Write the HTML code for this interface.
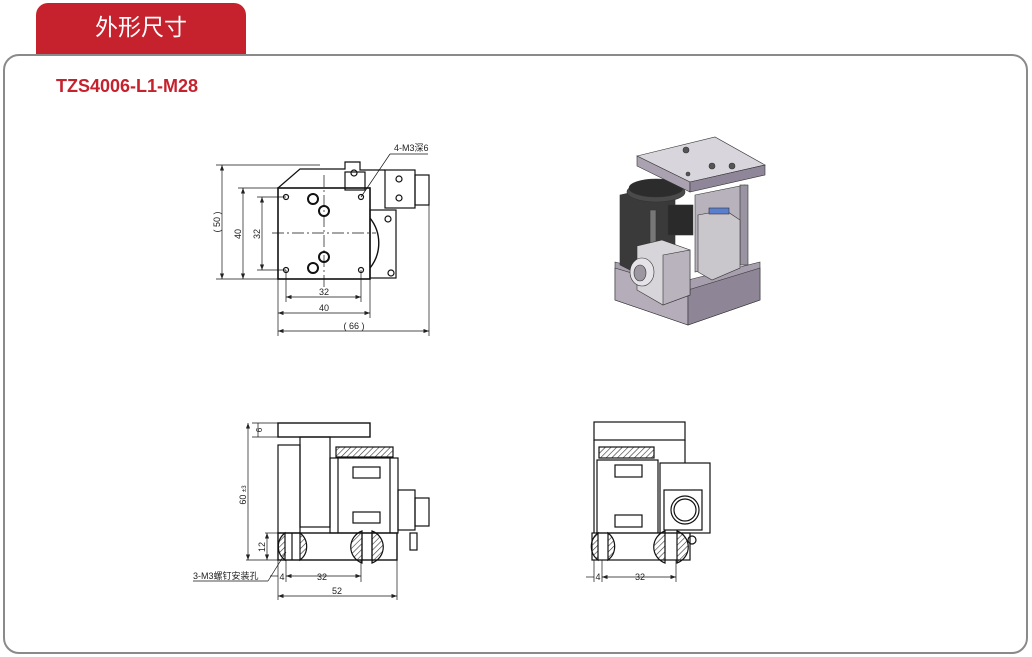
<!DOCTYPE html>
<html><head><meta charset="utf-8"><style>
html,body{margin:0;padding:0;background:#fff;}
body{width:1032px;height:657px;position:relative;overflow:hidden;font-family:"Liberation Sans","Noto Sans CJK SC",sans-serif;}
.tab{position:absolute;left:36px;top:3px;width:210px;height:52px;background:#c5222e;border-radius:12px 12px 0 0;color:#fff;font-size:23px;text-align:center;line-height:48px;font-family:"Liberation Sans","Noto Sans CJK SC",sans-serif;}
.box{position:absolute;left:3px;top:54px;width:1021px;height:596px;border:2px solid #8a8a8a;border-radius:16px;}
.title{position:absolute;left:56px;top:76px;color:#c5222e;font-weight:bold;font-size:18px;}
svg{position:absolute;left:0;top:0;}
</style></head><body>
<div class="tab">外形尺寸</div>
<div class="box"></div>
<div class="title">TZS4006-L1-M28</div>
<svg width="1032" height="657" viewBox="0 0 1032 657">
<defs>
<pattern id="h" width="4" height="4" patternUnits="userSpaceOnUse" patternTransform="rotate(45)"><line x1="0" y1="0" x2="0" y2="4" stroke="#333" stroke-width="1.2"/></pattern>
<marker id="a" markerWidth="8" markerHeight="6" refX="8" refY="3" orient="auto-start-reverse"><path d="M0,0 L8,3 L0,6Z" fill="#222"/></marker>
</defs>
<g fill="none" stroke="#111" stroke-width="1.2">
<!-- TOP VIEW -->
<path d="M278,188 L300,169 L345,169 L345,162 L360,162 L360,170 L385,170"/>
<rect x="278" y="188" width="92" height="91" stroke-width="1.6"/>
<rect x="370" y="210" width="26" height="68"/>
<path d="M370,218 A40,40 0 0 1 370,268" stroke-width="1.4"/>
<rect x="385" y="170" width="30" height="38"/>
<rect x="415" y="175" width="14" height="30"/>
<rect x="345" y="172" width="20" height="18"/>
<circle cx="399" cy="179" r="3"/><circle cx="399" cy="198" r="3"/>
<circle cx="354" cy="173" r="3"/><circle cx="388" cy="219" r="3"/><circle cx="391" cy="273" r="3"/>
<circle cx="286" cy="197" r="2.5"/><circle cx="361" cy="197" r="2.5"/><circle cx="286" cy="270" r="2.5"/><circle cx="361" cy="270" r="2.5"/>
<circle cx="313" cy="199" r="5" stroke-width="2"/><circle cx="324" cy="211" r="5" stroke-width="2"/>
<circle cx="324" cy="257" r="5" stroke-width="2"/><circle cx="313" cy="268" r="5" stroke-width="2"/>
<line x1="272" y1="233" x2="376" y2="233" stroke-dasharray="12,3,2,3" stroke-width="0.7"/>
<line x1="324" y1="175" x2="324" y2="290" stroke-dasharray="12,3,2,3" stroke-width="0.7"/>
<g stroke-width="0.7">
<line x1="216" y1="165" x2="320" y2="165"/><line x1="216" y1="279" x2="278" y2="279"/>
<line x1="222" y1="165" x2="222" y2="279" marker-start="url(#a)" marker-end="url(#a)"/>
<line x1="238" y1="188" x2="278" y2="188"/>
<line x1="243" y1="188" x2="243" y2="279" marker-start="url(#a)" marker-end="url(#a)"/>
<line x1="257" y1="197" x2="286" y2="197"/><line x1="257" y1="270" x2="286" y2="270"/>
<line x1="262" y1="197" x2="262" y2="270" marker-start="url(#a)" marker-end="url(#a)"/>
<line x1="286" y1="270" x2="286" y2="302"/><line x1="361" y1="270" x2="361" y2="302"/>
<line x1="286" y1="297" x2="361" y2="297" marker-start="url(#a)" marker-end="url(#a)"/>
<line x1="278" y1="279" x2="278" y2="336"/><line x1="370" y1="279" x2="370" y2="318"/>
<line x1="278" y1="313" x2="370" y2="313" marker-start="url(#a)" marker-end="url(#a)"/>
<line x1="429" y1="205" x2="429" y2="336"/>
<line x1="278" y1="331" x2="429" y2="331" marker-start="url(#a)" marker-end="url(#a)"/>
<line x1="361" y1="197" x2="390" y2="154"/><line x1="390" y1="154" x2="428" y2="154"/>
</g>
<!-- SIDE VIEW LEFT -->
<rect x="278" y="423" width="92" height="14" stroke-width="1.4"/>
<rect x="278" y="445" width="22" height="88"/>
<rect x="300" y="437" width="30" height="90"/>
<rect x="330" y="458" width="68" height="75"/>
<rect x="336" y="447" width="57" height="10" fill="url(#h)"/>
<rect x="353" y="467" width="27" height="11"/><rect x="353" y="512" width="27" height="11"/>
<line x1="338" y1="458" x2="338" y2="533"/><line x1="390" y1="458" x2="390" y2="533"/>
<rect x="398" y="490" width="17" height="40"/><rect x="415" y="498" width="14" height="28"/>
<rect x="410" y="533" width="7" height="17"/>
<rect x="278" y="533" width="119" height="27" stroke-width="1.4"/>
<path d="M285,533 A17,17 0 0 0 285,560 Z" fill="url(#h)"/>
<path d="M292,533 L292,560"/>
<path d="M300,533 A17,17 0 0 1 300,560 Z" fill="url(#h)"/>
<path d="M362,531 A17,17 0 0 0 362,563 Z" fill="url(#h)"/>
<path d="M372,531 A17,17 0 0 1 372,563 Z" fill="url(#h)"/>
<line x1="362" y1="533" x2="362" y2="560"/><line x1="372" y1="533" x2="372" y2="560"/>
<g stroke-width="0.7">
<line x1="252" y1="423" x2="278" y2="423"/><line x1="252" y1="437" x2="278" y2="437"/>
<line x1="258" y1="423" x2="258" y2="437"/>
<line x1="246" y1="560" x2="278" y2="560"/>
<line x1="248" y1="423" x2="248" y2="560" marker-start="url(#a)" marker-end="url(#a)"/>
<line x1="265" y1="533" x2="278" y2="533"/>
<line x1="267" y1="533" x2="267" y2="560" marker-start="url(#a)" marker-end="url(#a)"/>
<line x1="278" y1="560" x2="278" y2="600"/><line x1="286" y1="560" x2="286" y2="582"/>
<line x1="361" y1="560" x2="361" y2="582"/><line x1="397" y1="560" x2="397" y2="600"/>
<line x1="286" y1="576" x2="361" y2="576" marker-start="url(#a)" marker-end="url(#a)"/>
<line x1="270" y1="576" x2="278" y2="576"/>
<line x1="278" y1="596" x2="397" y2="596" marker-start="url(#a)" marker-end="url(#a)"/>
<line x1="193" y1="581" x2="268" y2="581"/><line x1="268" y1="581" x2="286" y2="552"/>
</g>
<!-- SIDE VIEW RIGHT -->
<rect x="594" y="422" width="91" height="18"/>
<line x1="594" y1="440" x2="594" y2="533"/><line x1="685" y1="440" x2="685" y2="463"/>
<rect x="599" y="447" width="55" height="11" fill="url(#h)"/>
<rect x="597" y="460" width="61" height="73"/>
<rect x="615" y="465" width="27" height="12"/><rect x="615" y="515" width="27" height="12"/>
<rect x="660" y="463" width="50" height="70"/>
<rect x="664" y="490" width="38" height="40"/>
<circle cx="685" cy="510" r="14"/><circle cx="685" cy="510" r="11"/>
<circle cx="692" cy="540" r="4"/>
<rect x="592" y="533" width="98" height="27"/>
<path d="M598,533 A17,17 0 0 0 598,560 Z" fill="url(#h)"/>
<path d="M608,533 A17,17 0 0 1 608,560 Z" fill="url(#h)"/>
<path d="M665,531 A17,17 0 0 0 665,563 Z" fill="url(#h)"/>
<path d="M677,531 A17,17 0 0 1 677,563 Z" fill="url(#h)"/>
<g stroke-width="0.7">
<line x1="594" y1="560" x2="594" y2="582"/><line x1="602" y1="560" x2="602" y2="582"/><line x1="676" y1="560" x2="676" y2="582"/>
<line x1="602" y1="577" x2="676" y2="577" marker-start="url(#a)" marker-end="url(#a)"/>
<line x1="586" y1="577" x2="594" y2="577"/>
</g>
</g>
<g font-family="Liberation Sans, Noto Sans CJK SC, sans-serif" font-size="9" fill="#222">
<text x="394" y="151">4-M3深6</text>
<text transform="translate(220,222) rotate(-90)" text-anchor="middle">( 50 )</text>
<text transform="translate(241,234) rotate(-90)" text-anchor="middle">40</text>
<text transform="translate(260,234) rotate(-90)" text-anchor="middle">32</text>
<text x="324" y="295" text-anchor="middle">32</text>
<text x="324" y="311" text-anchor="middle">40</text>
<text x="354" y="329" text-anchor="middle">( 66 )</text>
<text transform="translate(262,430) rotate(-90)" text-anchor="middle" font-size="8">6</text>
<text transform="translate(246,495) rotate(-90)" text-anchor="middle">60 <tspan font-size="6">±3</tspan></text>
<text transform="translate(265,547) rotate(-90)" text-anchor="middle">12</text>
<text x="282" y="580" text-anchor="middle">4</text>
<text x="322" y="580" text-anchor="middle">32</text>
<text x="337" y="594" text-anchor="middle">52</text>
<text x="193" y="579">3-M3螺钉安装孔</text>
<text x="598" y="580" text-anchor="middle">4</text>
<text x="640" y="580" text-anchor="middle">32</text>
</g>
<!-- 3D MODEL -->
<g stroke="#333" stroke-width="0.6">
<polygon points="615,262 688,280 760,262 760,300 688,325 615,300" fill="#a89fae"/>
<polygon points="615,268 688,290 688,325 615,300" fill="#b5adb9"/>
<polygon points="688,290 760,268 760,300 688,325" fill="#8e8597"/>
<polygon points="695,195 745,185 745,262 695,272" fill="#b7b2bb"/>
<rect x="740" y="185" width="8" height="80" fill="#9a93a1"/>
<polygon points="620,195 665,185 675,195 675,260 640,275 620,265" fill="#3a3a3a"/>
<ellipse cx="656" cy="192" rx="29" ry="10" fill="#4a4a4a"/>
<ellipse cx="656" cy="188" rx="27" ry="9" fill="#2c2c2c"/>
<rect x="668" y="205" width="25" height="30" fill="#2a2a2a"/>
<rect x="650" y="210" width="6" height="45" fill="#777"/>
<polygon points="698,215 725,210 740,220 740,268 712,280 698,272" fill="#c9c6cc"/>
<rect x="709" y="208" width="20" height="6" fill="#5b7fd0"/>
<polygon points="637,246 662,240 690,250 690,295 663,305 637,290" fill="#d8d5da"/>
<polygon points="663,255 690,250 690,295 663,305" fill="#b9b3bd"/>
<ellipse cx="642" cy="272" rx="12" ry="14" fill="#e6e3e8"/>
<ellipse cx="640" cy="273" rx="6" ry="8" fill="#9d97a1"/>
<polygon points="637,156 715,137 765,165 690,182" fill="#d9d5dc"/>
<polygon points="637,156 690,182 690,192 637,166" fill="#aaa2b0"/>
<polygon points="690,182 765,165 765,175 690,192" fill="#8f8799"/>
<circle cx="686" cy="150" r="3" fill="#555"/><circle cx="712" cy="166" r="3" fill="#555"/>
<circle cx="732" cy="166" r="3" fill="#555"/><circle cx="688" cy="174" r="2" fill="#555"/>
</g>
</svg>
</body></html>
